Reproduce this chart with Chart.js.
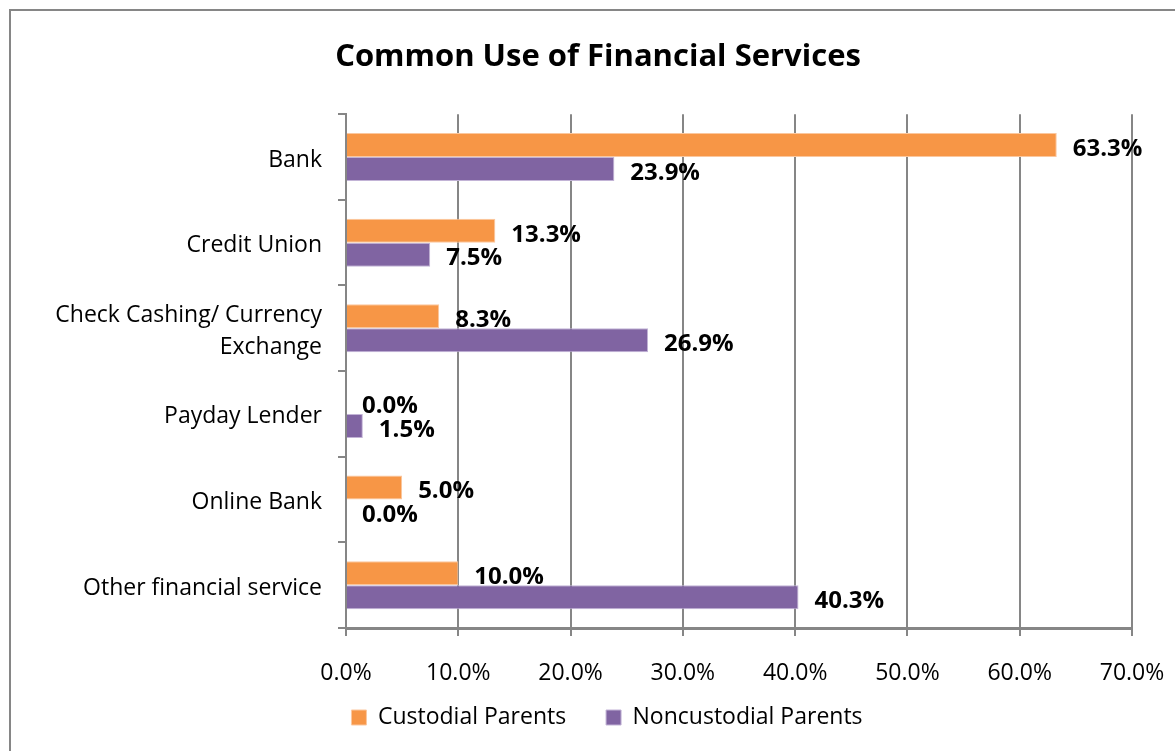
<!DOCTYPE html>
<html>
<head>
<meta charset="utf-8">
<script src="https://cdn.jsdelivr.net/npm/chart.js@4.4.0/dist/chart.umd.min.js"></script>
<style>
  html, body { margin: 0; padding: 0; background: #fff; overflow: hidden; }
  #chart { position: absolute; left: 0; top: 0; }
</style>
</head>
<body>
<canvas id="chart" width="1196" height="751"></canvas>
<script>
// data
const categories = ["Bank", "Credit Union", ["Check Cashing/ Currency", "Exchange"], "Payday Lender", "Online Bank", "Other financial service"];
const custodial = [63.3, 13.3, 8.3, 0.0, 5.0, 10.0];
const noncustodial = [23.9, 7.5, 26.9, 1.5, 0.0, 40.3];
const seriesNames = ["Custodial Parents", "Noncustodial Parents"];

const FONT = "'Open Sans'";
const GRID = "#868686";

// frame of the chart object (only left and top edge fit into the window)
const framePlugin = {
  id: "frame",
  afterLayout(chart) {
    // title and legend sit a bit right of the plot's centre in the original
    chart.titleBlock.left += 5;
    chart.titleBlock.right += 5;
    chart.legend.left += 14;
    chart.legend.right += 14;
  },
  beforeDraw(chart) {
    const ctx = chart.ctx;
    ctx.save();
    ctx.fillStyle = "#fff";
    ctx.fillRect(0, 0, chart.width, chart.height);
    ctx.strokeStyle = GRID;
    ctx.lineWidth = 2;
    ctx.beginPath();
    ctx.moveTo(10, chart.height + 5);
    ctx.lineTo(10, 10);
    ctx.lineTo(chart.width + 5, 10);
    ctx.stroke();
    ctx.restore();
  }
};

// value labels next to each bar end
const valueLabels = {
  id: "valueLabels",
  afterDatasetsDraw(chart) {
    const ctx = chart.ctx;
    ctx.save();
    ctx.font = "bold 24px " + FONT;
    ctx.fillStyle = "#000";
    ctx.textAlign = "left";
    ctx.textBaseline = "middle";
    chart.data.datasets.forEach((ds, i) => {
      chart.getDatasetMeta(i).data.forEach((bar, j) => {
        ctx.fillText(ds.data[j].toFixed(1) + "%", bar.x + 16, bar.y + 4);
      });
    });
    ctx.restore();
  }
};

new Chart(document.getElementById("chart"), {
  type: "bar",
  data: {
    labels: categories,
    datasets: [
      { label: seriesNames[0], data: custodial, backgroundColor: "#F79646", borderColor: "#FBC79E", borderWidth: 1 },
      { label: seriesNames[1], data: noncustodial, backgroundColor: "#8064A2", borderColor: "#C2B3D6", borderWidth: 1 }
    ]
  },
  options: {
    indexAxis: "y",
    responsive: false,
    animation: false,
    devicePixelRatio: 1,
    categoryPercentage: 0.56,
    barPercentage: 1,
    layout: { padding: { left: 54, right: 64, top: 12, bottom: 12 } },
    plugins: {
      title: {
        display: true,
        text: "Common Use of Financial Services",
        color: "#000",
        font: { family: FONT, size: 31, weight: "bold" },
        padding: { top: 27, bottom: 38 }
      },
      legend: {
        position: "bottom",
        labels: {
          color: "#000",
          font: { family: FONT, size: 23 },
          boxWidth: 15,
          boxHeight: 15,
          padding: 16,
          generateLabels(chart) {
            // spacing between the two entries
            const items = Chart.defaults.plugins.legend.labels.generateLabels(chart);
            items[0].text += "    ";
            return items;
          }
        }
      },
      tooltip: { enabled: false }
    },
    scales: {
      x: {
        min: 0,
        max: 70,
        ticks: {
          stepSize: 10,
          color: "#000",
          font: { family: FONT, size: 23 },
          padding: 24,
          callback: v => v.toFixed(1) + "%"
        },
        grid: { color: GRID, lineWidth: 2, tickLength: 8 },
        border: { color: GRID, width: 3 },
        afterFit(scale) { scale.height = 62; }
      },
      y: {
        ticks: {
          color: "#000",
          font: { family: FONT, size: 23, lineHeight: 1.4 },
          padding: 16,
          labelOffset: 3
        },
        grid: { color: GRID, lineWidth: 2, tickLength: 8, drawOnChartArea: false },
        border: { color: GRID, width: 2 },
        afterFit(scale) { scale.width = 292; }
      }
    }
  },
  plugins: [framePlugin, valueLabels]
});
</script>
</body>
</html>
